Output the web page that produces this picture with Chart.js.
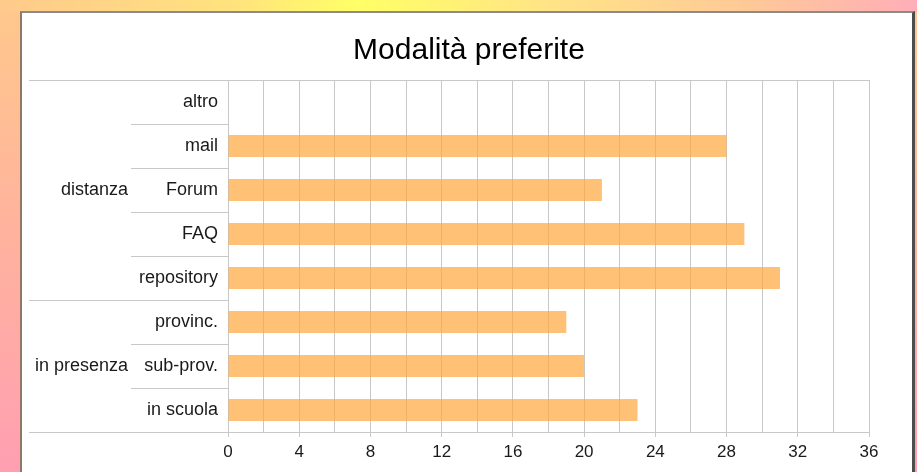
<!DOCTYPE html>
<html>
<head>
<meta charset="utf-8">
<script src="https://cdn.jsdelivr.net/npm/chart.js@4/dist/chart.umd.min.js"></script>
<style>
  html, body { margin: 0; padding: 0; width: 917px; height: 472px; overflow: hidden; }
  body {
    position: relative;
    background:
      linear-gradient(to right, #ffca8c 0%, #ffe27e 25%, #ffff66 39%, #ffe486 60%, #ffc898 82%, #ffaeb8 100%) top left / 100% 12px no-repeat,
      linear-gradient(to bottom, #ffc98c 0%, #ffb49c 45%, #ff9fb2 100%);
  }
  #panel {
    position: absolute; left: 20px; top: 11px; width: 895px; height: 520px;
    box-sizing: border-box; background: #fff;
    border-left: 2px solid #8c7a66; border-top: 2px solid #8e8a85; border-right: 3px solid #4d4d4d;
  }
  #c { position: absolute; left: 0; top: 0; }
</style>
</head>
<body>
<div id="panel"></div>
<canvas id="c" width="917" height="472"></canvas>
<script>
const titleText = 'Modalità preferite';
const categories = ['altro', 'mail', 'Forum', 'FAQ', 'repository', 'provinc.', 'sub-prov.', 'in scuola'];
const groupLabels = ['', '', 'distanza', '', '', '', 'in presenza', ''];
const groupStartIndices = [0, 5];
const values = [0, 28, 21, 29, 31, 19, 20, 23];
const xMin = 0, xMax = 36, xMinorStep = 2, xMajorStep = 4;

const FONT = '"Liberation Sans", Arial, sans-serif';
const LINE = '#c8c8c8';

new Chart(document.getElementById('c'), {
  type: 'bar',
  data: {
    labels: categories,
    datasets: [{
      data: values,
      backgroundColor: 'rgba(255,166,60,0.7)',
      borderWidth: 0,
      barPercentage: 0.5,
      categoryPercentage: 1.0,
      yAxisID: 'y'
    }]
  },
  options: {
    responsive: false,
    animation: false,
    indexAxis: 'y',
    layout: { padding: { left: 29, right: 8, top: 0, bottom: 10 } },
    plugins: {
      legend: { display: false },
      tooltip: { enabled: false },
      title: {
        display: true,
        text: titleText,
        color: '#000',
        font: { family: FONT, size: 30, weight: 'normal', lineHeight: 1.2 },
        padding: { top: 32.5, bottom: 11.5 }
      }
    },
    scales: {
      x: {
        type: 'linear',
        min: xMin, max: xMax,
        border: { display: true, color: LINE, width: 1 },
        grid: {
          color: LINE, lineWidth: 1, drawTicks: true, tickLength: 5,
          tickColor: ctx => (ctx.tick && ctx.tick.value % xMajorStep === 0) ? LINE : 'rgba(0,0,0,0)'
        },
        ticks: {
          stepSize: xMinorStep, autoSkip: false, maxRotation: 0, padding: 5,
          color: '#1a1a1a', font: { family: FONT, size: 17 },
          callback: v => (v % xMajorStep === 0 ? String(v) : '')
        },
        afterFit: s => { s.height = 30; }
      },
      y: {
        type: 'category',
        position: 'left',
        weight: 0,
        offset: true,
        border: { display: false },
        grid: {
          offset: true, drawOnChartArea: true, drawTicks: true, tickLength: 97,
          lineWidth: 1,
          color: ctx => (ctx.type !== 'tick' || ctx.index === 0) ? LINE : 'rgba(0,0,0,0)',
          tickColor: LINE
        },
        ticks: {
          padding: -87, autoSkip: false,
          color: '#1a1a1a', font: { family: FONT, size: 18 }
        },
        afterFit: s => { s.width = 97; }
      },
      yGroup: {
        type: 'category',
        position: 'left',
        weight: 1,
        offset: true,
        labels: groupLabels,
        border: { display: false },
        grid: {
          offset: true, drawOnChartArea: false, drawTicks: true, tickLength: 102,
          lineWidth: 1,
          tickColor: ctx => (ctx.type !== 'tick' || groupStartIndices.includes(ctx.index)) ? LINE : 'rgba(0,0,0,0)'
        },
        ticks: {
          padding: -99, autoSkip: false,
          color: '#1a1a1a', font: { family: FONT, size: 18 }
        },
        afterFit: s => { s.width = 102; }
      },
      yRight: {
        type: 'category',
        position: 'right',
        labels: categories,
        offset: true,
        border: { display: false },
        grid: { display: false },
        ticks: { display: false },
        afterFit: s => { s.width = 40; }
      }
    }
  }
});
</script>
</body>
</html>
